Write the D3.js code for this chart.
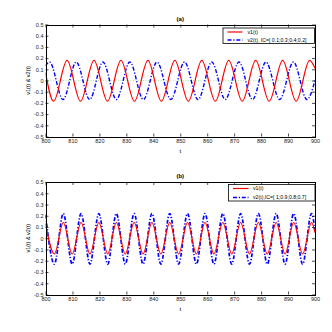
<!DOCTYPE html>
<html>
<head>
<meta charset="utf-8">
<script src="https://cdn.jsdelivr.net/npm/d3@7"></script>
<style>
  body { margin: 0; background: #fff; }
  svg { font-family: "Liberation Sans", Arial, sans-serif; }
</style>
</head>
<body>
<svg id="chart" width="332" height="332"></svg>
<script>
// tick values
const xTicks = [800, 810, 820, 830, 840, 850, 860, 870, 880, 890, 900];
const yTicks = [-0.5, -0.4, -0.3, -0.2, -0.1, 0, 0.1, 0.2, 0.3, 0.4, 0.5];

// panel (a): extrema (t, value)
const tA1 = [800, 803, 808, 813, 818, 823, 828, 833, 838, 843, 848, 853, 858, 863, 868, 873, 878, 883, 888, 893, 898, 900];
const vA1 = [0.07, -0.185, 0.18, -0.185, 0.18, -0.185, 0.18, -0.185, 0.18, -0.185, 0.18, -0.185, 0.18, -0.185, 0.18, -0.185, 0.18, -0.185, 0.18, -0.185, 0.18, 0.11];
const tA2 = [800, 801.5, 806.5, 811.4, 816.4, 821.3, 826.3, 831.3, 836.3, 841.4, 846.5, 851.6, 856.6, 861.7, 866.7, 871.8, 876.8, 881.8, 886.9, 892.0, 897.0, 900];
const vA2 = [0.13, 0.165, -0.17, 0.165, -0.17, 0.165, -0.17, 0.165, -0.17, 0.165, -0.17, 0.165, -0.17, 0.165, -0.17, 0.165, -0.17, 0.165, -0.17, 0.165, -0.17, 0.0];

// panel (b)
const tB = [800, 803.3, 806.6, 809.9, 813.2, 816.5, 819.8, 823.1, 826.3, 829.6, 832.9, 836.2, 839.5, 842.8, 846.1, 849.4, 852.7, 856.0, 859.2, 862.5, 865.8, 869.1, 872.4, 875.7, 879.0, 882.3, 885.6, 888.9, 892.1, 895.4, 898.7, 900];
const vB1 = [0.13, -0.14, 0.14, -0.14, 0.14, -0.14, 0.14, -0.14, 0.14, -0.14, 0.14, -0.14, 0.14, -0.14, 0.14, -0.14, 0.14, -0.14, 0.14, -0.14, 0.14, -0.14, 0.14, -0.14, 0.14, -0.14, 0.14, -0.14, 0.14, -0.14, 0.14, 0.05];
const vB2 = [0.21, -0.23, 0.22, -0.23, 0.22, -0.23, 0.22, -0.23, 0.22, -0.23, 0.22, -0.23, 0.22, -0.23, 0.22, -0.23, 0.22, -0.23, 0.22, -0.23, 0.22, -0.23, 0.22, -0.23, 0.22, -0.23, 0.22, -0.23, 0.22, -0.23, 0.22, 0.07];

const panels = [
  { title: "(a)", top: 24.5, bottom: 136.5, t1: tA1, v1: vA1, t2: tA2, v2: vA2,
    leg: ["v1(t)", "v2(t), IC=[ 0.1;0.3;0.4;0.2]"], legBox: [223, 28, 91.5, 15.5], legLine: 15 },
  { title: "(b)", top: 182, bottom: 294.5, t1: tB, v1: vB1, t2: tB, v2: vB2,
    leg: ["v1(t)", "v2(t),IC=[ 1;0.9;0.8;0.7]"], legBox: [228.5, 184.5, 86.5, 16.5], legLine: 15.5 }
];

const svg = d3.select("#chart");
const left = 45.5, right = 315;

panels.forEach((p, i) => {
  const x = d3.scaleLinear().domain([800, 900]).range([left, right]);
  const y = d3.scaleLinear().domain([-0.5, 0.5]).range([p.bottom, p.top]);
  const g = svg.append("g");

  g.append("clipPath").attr("id", "clip" + i)
    .append("rect").attr("x", left).attr("y", p.top)
    .attr("width", right - left).attr("height", p.bottom - p.top);

  // zero line
  g.append("line")
    .attr("x1", x(800)).attr("x2", x(900))
    .attr("y1", y(0)).attr("y2", y(0))
    .attr("stroke", "#9be89b").attr("stroke-width", 0.8)
    .attr("stroke-dasharray", "1,1.5");

  const line = d3.line()
    .x(d => x(d[0]))
    .y(d => y(d[1]))
    .curve(d3.curveMonotoneX);

  const plot = g.append("g").attr("clip-path", "url(#clip" + i + ")");

  plot.append("path")
    .datum(d3.zip(p.t2, p.v2))
    .attr("fill", "none")
    .attr("stroke", "#0000ff")
    .attr("stroke-width", i === 0 ? 1.4 : 1.7)
    .attr("stroke-dasharray", "4,1.8,1.2,1.8")
    .attr("d", line);

  plot.append("path")
    .datum(d3.zip(p.t1, p.v1))
    .attr("fill", "none")
    .attr("stroke", "#ff0000")
    .attr("stroke-width", 1.2)
    .attr("d", line);

  // axes, ticks inward on all four sides
  const fmt = d => d === 0 ? "0" : d.toFixed(1);
  const axes = [
    g.append("g").attr("transform", "translate(0," + p.bottom + ")")
      .call(d3.axisBottom(x).tickValues(xTicks).tickSize(-3).tickPadding(2.5)),
    g.append("g").attr("transform", "translate(" + left + ",0)")
      .call(d3.axisLeft(y).tickValues(yTicks).tickSize(-3).tickPadding(2).tickFormat(fmt)),
    g.append("g").attr("transform", "translate(0," + p.top + ")")
      .call(d3.axisTop(x).tickValues(xTicks).tickSize(-3).tickFormat("")),
    g.append("g").attr("transform", "translate(" + right + ",0)")
      .call(d3.axisRight(y).tickValues(yTicks).tickSize(-3).tickFormat(""))
  ];
  axes.forEach(a => {
    a.select(".domain").attr("stroke", "#000").attr("stroke-width", 1).attr("shape-rendering", "crispEdges");
    a.selectAll(".tick line").attr("stroke", "#000").attr("stroke-width", 0.7);
    a.selectAll("text").attr("font-size", "5.5px").attr("fill", "#222").attr("font-family", null);
  });

  g.append("text")
    .attr("x", (left + right) / 2).attr("y", p.top - 4)
    .attr("text-anchor", "middle").attr("font-size", "6px").attr("font-weight", "bold")
    .text(p.title);

  g.append("text")
    .attr("x", (left + right) / 2).attr("y", p.bottom + 16)
    .attr("text-anchor", "middle").attr("font-size", "6px")
    .text("t");

  g.append("text")
    .attr("transform", "translate(" + 30 + "," + (p.top + p.bottom) / 2 + ") rotate(-90)")
    .attr("text-anchor", "middle").attr("font-size", "5.5px")
    .text("v1(t) & v2(t)");

  // legend
  const [lx, ly, lw, lh] = p.legBox;
  const leg = g.append("g");
  leg.append("rect").attr("x", lx).attr("y", ly).attr("width", lw).attr("height", lh)
    .attr("fill", "#fff").attr("stroke", "#000").attr("stroke-width", 0.8);
  const rows = [
    { c: "#ff0000", dash: null, w: 1.2 },
    { c: "#0000ff", dash: "4,1.8,1.2,1.8", w: 1.4 }
  ];
  rows.forEach((r, k) => {
    const yy = ly + 3.5 + k * (lh - 7.5) + 0.5;
    leg.append("line")
      .attr("x1", lx + 4.5).attr("x2", lx + 4.5 + p.legLine)
      .attr("y1", yy).attr("y2", yy)
      .attr("stroke", r.c).attr("stroke-width", r.w)
      .attr("stroke-dasharray", r.dash);
    leg.append("text")
      .attr("x", lx + 24.5).attr("y", yy + 1.9)
      .attr("font-size", "5.2px")
      .text(p.leg[k]);
  });
});
</script>
</body>
</html>
